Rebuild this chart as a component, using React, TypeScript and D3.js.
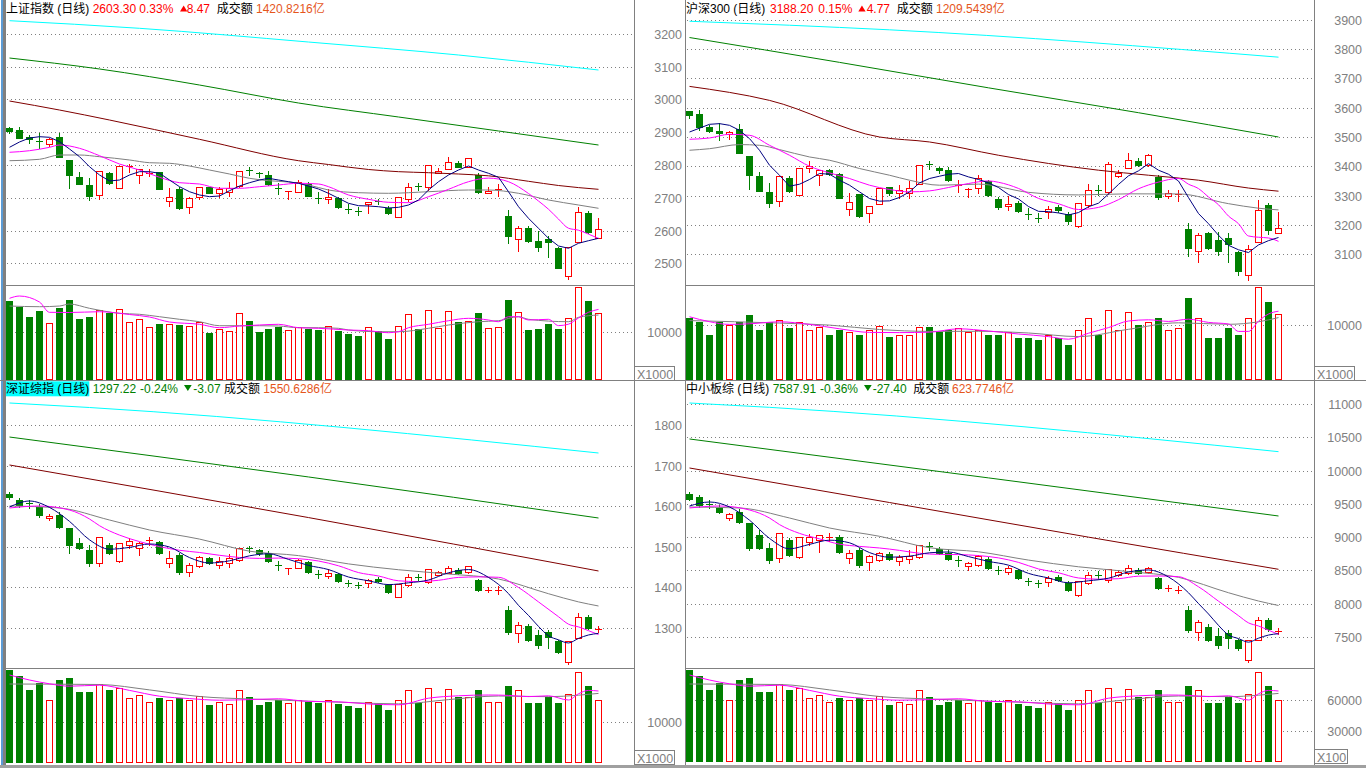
import React from "react";
import * as d3 from "d3";

type Candle = [number, number, number, number]; // open, high, low, close
type Pt = [number, number]; // candle index, value

const RED = "#ff0000";
const GREEN = "#008000";
const NAVY = "#000080";
const MAGENTA = "#ff00ff";
const GRAY = "#808080";
const DARKRED = "#800000";
const CYAN = "#00ffff";
const ORANGE = "#e5561c";
const FONT = '"Liberation Sans", Arial, "Noto Sans CJK SC", sans-serif';

// ================= 上证指数 =================
const shCandles: Candle[] = [
  [2912.9, 2916.0, 2897.7, 2903.8], [2906.8, 2916.9, 2881.0, 2883.3], [2884.5, 2891.5, 2866.2, 2878.4],
  [2873.2, 2896.7, 2852.8, 2870.2], [2864.1, 2883.3, 2858.0, 2878.4], [2884.5, 2896.7, 2824.4, 2825.3],
  [2815.3, 2815.3, 2728.9, 2769.5], [2762.5, 2777.7, 2742.0, 2742.0], [2739.0, 2759.4, 2693.2, 2705.4],
  [2709.4, 2781.7, 2696.2, 2781.7], [2774.7, 2779.6, 2742.0, 2746.0], [2728.9, 2797.9, 2728.9, 2797.9],
  [2793.9, 2803.0, 2779.6, 2797.0], [2769.5, 2786.9, 2746.0, 2786.9], [2773.5, 2787.8, 2766.4, 2775.6],
  [2777.7, 2777.7, 2725.8, 2725.8], [2691.1, 2728.9, 2674.9, 2703.3], [2725.8, 2733.8, 2665.7, 2668.8],
  [2672.7, 2702.3, 2654.4, 2698.4], [2701.4, 2733.8, 2697.2, 2733.8], [2732.0, 2733.8, 2713.6, 2715.5],
  [2713.6, 2733.8, 2703.3, 2725.8], [2718.5, 2749.0, 2705.4, 2728.9], [2735.9, 2780.8, 2733.8, 2780.8],
  [2783.8, 2794.8, 2769.5, 2781.7], [2776.5, 2779.6, 2762.5, 2771.6], [2769.5, 2781.7, 2738.0, 2742.0],
  [2729.8, 2744.2, 2711.5, 2727.7], [2717.6, 2719.7, 2695.3, 2719.7], [2718.5, 2754.2, 2718.5, 2749.0],
  [2742.0, 2747.2, 2703.9, 2706.9], [2700.2, 2718.5, 2683.1, 2698.4], [2695.3, 2725.8, 2685.0, 2701.4],
  [2700.2, 2702.3, 2669.7, 2672.7], [2665.7, 2681.0, 2654.4, 2664.2], [2660.5, 2672.7, 2647.4, 2658.7],
  [2680.1, 2688.0, 2654.4, 2686.2], [2691.1, 2697.2, 2680.1, 2686.2], [2669.7, 2674.9, 2650.5, 2654.4],
  [2642.2, 2701.4, 2642.2, 2701.4], [2695.3, 2746.0, 2691.1, 2732.0], [2735.0, 2746.0, 2723.7, 2732.9],
  [2733.8, 2800.0, 2723.7, 2800.0], [2774.7, 2789.9, 2774.7, 2780.8], [2786.9, 2825.3, 2786.9, 2808.2],
  [2805.2, 2813.1, 2793.0, 2794.8], [2794.8, 2820.4, 2793.0, 2820.4], [2769.5, 2774.7, 2713.6, 2718.5],
  [2713.6, 2733.8, 2713.6, 2721.6], [2724.6, 2742.0, 2705.4, 2726.8], [2644.4, 2662.7, 2562.9, 2584.3],
  [2573.3, 2613.9, 2538.5, 2606.8], [2608.7, 2614.8, 2566.0, 2568.1], [2569.0, 2599.5, 2538.5, 2548.9],
  [2574.2, 2583.3, 2520.2, 2564.1], [2547.6, 2549.7, 2486.6, 2486.6], [2461.3, 2548.9, 2451.2, 2548.9],
  [2564.1, 2670.9, 2564.1, 2655.7], [2654.4, 2660.5, 2593.4, 2594.8], [2578.2, 2639.2, 2578.2, 2603.3],
];
const shVolume: number[] = [
  16622, 15364, 13268, 14525, 11884, 15154, 16768, 12786, 13268, 14672, 13980, 14819, 12094, 12723, 11046,
  11738, 11675, 11528, 11318, 12094, 9914, 10627, 10270, 13980, 12366, 10061, 10690, 11172, 10417, 11172,
  10690, 10480, 11318, 10270, 9642, 9222, 11046, 10270, 8594, 11318, 13834, 10627, 14609, 10836, 14462,
  12220, 12366, 14106, 10836, 11046, 16768, 14253, 10480, 10690, 11800, 10690, 12932, 19430, 16558, 13980,
];
const shMA5: number[] = [
  2854.0, 2870.2, 2882.4, 2886.4, 2884.5, 2871.1, 2848.8, 2825.3, 2794.8, 2769.5, 2751.2, 2754.2, 2769.5,
  2779.6, 2779.6, 2774.7, 2754.2, 2733.8, 2718.5, 2708.5, 2703.3, 2705.4, 2721.6, 2735.9, 2746.0, 2754.2,
  2759.4, 2754.2, 2749.0, 2744.2, 2735.9, 2726.8, 2713.6, 2698.4, 2683.1, 2675.8, 2674.9, 2672.7, 2668.8,
  2670.9, 2677.9, 2693.2, 2723.7, 2749.0, 2769.5, 2784.7, 2797.0, 2784.7, 2774.7, 2762.5, 2718.5, 2672.7,
  2637.3, 2606.8, 2576.3, 2552.8, 2545.8, 2561.1, 2569.0, 2576.3,
];
const shMA10: Pt[] = [
  [0, 2838.8], [2, 2843.6], [4, 2854.0], [5, 2861.0], [7, 2851.0], [9, 2828.4], [11, 2803.0], [13, 2784.7],
  [15, 2762.5], [17, 2746.0], [19, 2742.0], [21, 2728.9], [23, 2728.9], [25, 2733.8], [27, 2739.0],
  [29, 2744.2], [31, 2742.0], [32, 2733.8], [34, 2708.5], [36, 2695.3], [38, 2686.2], [40, 2685.0],
  [42, 2703.3], [44, 2725.8], [46, 2749.0], [48, 2760.0], [50, 2749.0], [52, 2713.0], [53, 2690.0],
  [54, 2665.0], [55, 2635.0], [56, 2607.0], [57, 2601.0], [58, 2589.0], [59, 2576.0],
];
const shMA20: Pt[] = [
  [0, 2813.1], [3, 2817.4], [5, 2830.5], [7, 2830.5], [9, 2825.3], [12, 2815.3], [14, 2807.0], [16, 2805.2],
  [18, 2796.9], [20, 2784.7], [22, 2772.5], [24, 2759.4], [26, 2752.1], [28, 2748.1], [30, 2739.0],
  [32, 2723.7], [35, 2715.5], [38, 2713.6], [42, 2718.5], [46, 2723.7], [48, 2723.7], [51, 2713.6],
  [54, 2693.2], [57, 2677.9], [59, 2667.9],
];
const shMA60: Pt[] = [
  [0, 2995.3], [5, 2967.8], [10, 2937.3], [19, 2878.4], [29, 2813.1], [32, 2801.5], [36, 2786.3],
  [39, 2779.6], [42, 2776.5], [45, 2772.5], [48, 2767.0], [52, 2750.3], [55, 2737.4], [59, 2725.8],
];
const shMA120: Pt[] = [
  [0, 3126.5], [9, 3093.0], [19, 3044.1], [29, 2989.2], [39, 2946.5], [49, 2903.8], [59, 2861.0],
];
const shMA250: Pt[] = [[0, 3240.4], [13, 3217.2], [30, 3175.3], [45, 3135.7], [59, 3089.9]];
const shVolMA5: Pt[] = [
  [0, 17124], [1, 17606], [3, 16349], [4, 14190], [6, 14148], [9, 14316], [12, 13729], [14, 13205],
  [16, 12157], [19, 11675], [21, 10962], [23, 11318], [25, 11528], [27, 11675], [29, 10962], [31, 10836],
  [34, 10480], [36, 10333], [38, 9914], [39, 10124], [40, 10962], [42, 11675], [44, 12429], [46, 12932],
  [48, 12576], [49, 12220], [50, 13268], [51, 13268], [52, 12576], [54, 12723], [55, 11400], [56, 11700],
  [57, 13000], [58, 14200], [59, 14800],
];
const shVolMA10: Pt[] = [
  [0, 15510], [3, 15364], [5, 15510], [6, 15930], [8, 15029], [11, 13980], [13, 13771], [15, 13268],
  [17, 12723], [19, 12220], [21, 11381], [23, 11381], [25, 11381], [27, 11318], [29, 10962], [31, 10962],
  [33, 10836], [34, 10480], [37, 10124], [39, 10124], [42, 10836], [44, 11528], [47, 12220], [49, 12429],
  [51, 13268], [52, 12723], [56, 12220], [57, 13142], [59, 13624],
];

// ================= 沪深300 =================
const hsCandles: Candle[] = [
  [3588.6, 3588.6, 3566.1, 3576.4], [3579.8, 3591.0, 3525.2, 3534.1], [3534.1, 3539.9, 3517.0, 3519.4],
  [3519.4, 3547.7, 3491.1, 3513.6], [3509.2, 3520.5, 3494.5, 3516.0], [3528.6, 3543.3, 3446.8, 3446.8],
  [3434.2, 3434.2, 3321.7, 3369.4], [3366.0, 3380.7, 3315.9, 3315.9], [3310.4, 3343.2, 3259.3, 3275.0],
  [3281.8, 3368.4, 3263.7, 3368.4], [3361.6, 3366.0, 3312.5, 3315.9], [3301.2, 3394.3, 3301.2, 3394.3],
  [3394.3, 3418.2, 3380.7, 3402.5], [3369.4, 3388.9, 3335.3, 3388.9], [3386.5, 3392.3, 3369.4, 3372.8],
  [3372.8, 3376.2, 3290.0, 3290.0], [3252.5, 3309.1, 3233.0, 3276.3], [3303.6, 3303.6, 3227.2, 3229.6],
  [3238.8, 3264.7, 3210.2, 3264.7], [3269.5, 3326.1, 3269.5, 3326.1], [3329.5, 3329.5, 3300.2, 3309.1],
  [3307.0, 3335.3, 3290.0, 3318.3], [3307.0, 3348.9, 3292.0, 3324.1], [3338.7, 3405.9, 3338.7, 3405.9],
  [3407.9, 3417.2, 3392.3, 3405.9], [3394.3, 3397.7, 3377.3, 3386.5], [3386.5, 3397.7, 3350.0, 3352.4],
  [3331.9, 3352.4, 3312.5, 3334.3], [3319.3, 3325.1, 3293.4, 3321.7], [3324.1, 3369.4, 3307.0, 3361.6],
  [3349.0, 3352.4, 3298.0, 3301.2], [3286.6, 3294.5, 3252.5, 3259.3], [3263.7, 3297.8, 3250.1, 3272.2],
  [3274.0, 3280.8, 3243.3, 3246.7], [3236.4, 3256.9, 3219.4, 3233.0], [3222.8, 3239.8, 3209.0, 3219.4],
  [3243.3, 3263.7, 3222.8, 3253.5], [3260.3, 3267.1, 3243.3, 3250.1], [3236.4, 3243.3, 3202.3, 3212.6],
  [3195.5, 3274.0, 3192.1, 3274.0], [3267.1, 3338.7, 3260.3, 3318.3], [3318.3, 3335.3, 3301.2, 3314.9],
  [3311.5, 3413.8, 3304.6, 3406.9], [3366.0, 3386.5, 3362.6, 3376.2], [3393.3, 3444.4, 3393.3, 3420.6],
  [3417.2, 3427.4, 3400.1, 3403.5], [3403.5, 3441.0, 3400.1, 3437.6], [3362.6, 3369.4, 3287.6, 3294.4],
  [3297.8, 3318.3, 3290.0, 3308.0], [3301.2, 3318.3, 3280.8, 3304.6], [3185.0, 3206.0, 3093.0, 3120.0],
  [3112.0, 3171.0, 3073.0, 3165.0], [3172.0, 3175.0, 3117.0, 3121.0], [3148.0, 3175.0, 3097.0, 3110.0],
  [3155.0, 3172.0, 3073.0, 3134.0], [3107.0, 3110.0, 3030.0, 3043.0], [3030.0, 3130.0, 3011.0, 3118.0],
  [3140.0, 3285.0, 3140.0, 3251.0], [3267.0, 3274.0, 3168.0, 3183.4], [3170.6, 3243.3, 3170.6, 3188.2],
];
const hsVolume: number[] = [
  11272, 10544, 8181, 10544, 9999, 10544, 11817, 9090, 10544, 10908, 9454, 10544, 9090, 9635, 8181, 9090,
  8726, 8181, 9090, 9817, 7817, 8181, 8181, 9635, 9635, 8726, 9090, 9454, 8726, 9090, 8181, 8181, 8726,
  7636, 7636, 7272, 8181, 7636, 6363, 9090, 11272, 8181, 12726, 9090, 12362, 9999, 10544, 11272, 9090,
  9454, 14908, 11272, 7636, 7636, 9454, 8181, 11272, 16907, 14180, 11999,
];
const hsMA5: Pt[] = [
  [0, 3517.0], [2, 3543.3], [3, 3545.7], [4, 3539.9], [5, 3522.8], [6, 3494.5], [7, 3454.7], [8, 3403.5],
  [9, 3369.4], [10, 3331.9], [11, 3338.7], [12, 3354.8], [13, 3375.2], [14, 3372.8], [15, 3352.4],
  [16, 3335.3], [17, 3312.5], [18, 3289.9], [19, 3280.8], [20, 3281.8], [21, 3293.4], [22, 3312.5],
  [23, 3343.2], [24, 3358.2], [25, 3366.0], [26, 3372.8], [27, 3375.2], [28, 3363.6], [29, 3354.8],
  [30, 3343.2], [31, 3327.5], [32, 3303.3], [33, 3288.3], [34, 3262.4], [35, 3246.0], [36, 3245.0],
  [37, 3240.5], [38, 3233.7], [39, 3241.9], [40, 3261.7], [41, 3273.9], [42, 3305.3], [43, 3338.0],
  [44, 3367.4], [45, 3384.4], [46, 3409.0], [47, 3386.5], [48, 3372.8], [49, 3349.6], [50, 3292.9],
  [51, 3238.4], [52, 3203.7], [53, 3164.1], [54, 3130.0], [55, 3114.6], [56, 3105.2], [57, 3131.2],
  [58, 3145.9], [59, 3156.7],
];
const hsMA10: Pt[] = [
  [0, 3492.2], [2, 3496.6], [4, 3509.2], [6, 3505.8], [8, 3471.7], [10, 3437.6], [12, 3400.1], [14, 3377.3],
  [16, 3358.2], [18, 3335.3], [20, 3320.7], [22, 3312.5], [24, 3315.9], [26, 3327.5], [28, 3341.1],
  [30, 3350.0], [31, 3345.3], [33, 3324.2], [35, 3290.2], [37, 3271.9], [39, 3252.2], [41, 3259.5],
  [43, 3285.9], [45, 3323.1], [47, 3345.9], [49, 3358.5], [50, 3338.7], [51, 3323.7], [52, 3295.1],
  [53, 3268.5], [54, 3229.8], [55, 3203.8], [56, 3161.8], [57, 3157.5], [58, 3155.0], [59, 3143.4],
];
const hsMA20: Pt[] = [
  [0, 3454.7], [2, 3460.0], [5, 3474.1], [7, 3471.7], [9, 3457.0], [12, 3431.8], [14, 3420.6], [17, 3392.3],
  [20, 3369.4], [22, 3352.4], [25, 3335.3], [29, 3339.0], [34, 3310.9], [39, 3302.1], [44, 3305.8],
  [49, 3305.4], [54, 3272.2], [57, 3256.7], [59, 3250.9],
];
const hsMA60: Pt[] = [
  [0, 3672.9], [8, 3625.1], [19, 3500.0], [24, 3483.0], [31, 3437.6], [41, 3386.5], [46, 3369.4],
  [51, 3352.4], [56, 3325.6], [59, 3314.9],
];
const hsMA120: Pt[] = [[0, 3839.9], [15, 3755.0], [30, 3668.0], [45, 3583.0], [59, 3500.0]];
const hsMA250: Pt[] = [[0, 3895.5], [10, 3881.9], [20, 3866.2], [59, 3772.8]];
const hsVolMA5: Pt[] = [
  [0, 11500], [2, 10600], [4, 10108], [6, 10217], [9, 10581], [12, 10108], [15, 9308], [18, 8654],
  [21, 8617], [24, 8690], [27, 9308], [30, 8908], [33, 8363], [36, 7890], [38, 7418], [40, 8508],
  [42, 9526], [44, 10726], [46, 10944], [48, 10653], [50, 11054], [52, 10472], [54, 10181], [55, 8836],
  [56, 8836], [57, 10690], [58, 11999], [59, 12508],
];
const hsVolMA10: Pt[] = [
  [0, 10800], [9, 10344], [14, 9981], [19, 9181], [24, 8837], [29, 8856], [34, 8547], [39, 7890],
  [44, 9217], [49, 10399], [54, 10127], [57, 10581], [59, 11345],
];

// ================= 深证综指 =================
const szCandles: Candle[] = [
  [1630.1, 1635.0, 1617.7, 1622.7], [1615.3, 1620.2, 1598.0, 1603.0], [1607.9, 1615.3, 1595.6, 1605.4],
  [1598.0, 1605.4, 1573.4, 1578.3], [1570.9, 1580.8, 1566.0, 1575.9], [1578.3, 1585.7, 1546.3, 1548.8],
  [1546.3, 1546.3, 1484.7, 1504.4], [1509.4, 1521.7, 1494.6, 1497.1], [1492.1, 1504.4, 1452.7, 1460.1],
  [1460.1, 1524.1, 1452.7, 1524.1], [1504.4, 1509.4, 1482.3, 1484.7], [1465.0, 1509.4, 1462.6, 1509.4],
  [1504.4, 1521.7, 1497.1, 1514.3], [1497.1, 1511.8, 1479.8, 1509.4], [1514.3, 1524.1, 1504.4, 1516.8],
  [1511.8, 1514.3, 1482.3, 1484.7], [1460.1, 1489.7, 1450.3, 1472.4], [1479.8, 1484.7, 1433.0, 1437.9],
  [1437.9, 1460.1, 1428.1, 1455.2], [1452.7, 1477.3, 1450.3, 1474.9], [1472.4, 1474.9, 1457.6, 1460.1],
  [1455.2, 1474.9, 1447.8, 1465.0], [1460.1, 1482.3, 1450.3, 1472.4], [1467.5, 1497.1, 1465.0, 1497.1],
  [1497.1, 1502.0, 1487.2, 1494.6], [1492.1, 1494.6, 1479.8, 1484.7], [1484.7, 1489.7, 1462.6, 1465.0],
  [1455.2, 1465.0, 1442.9, 1452.7], [1445.3, 1447.8, 1433.0, 1447.8], [1447.8, 1470.0, 1447.8, 1467.5],
  [1462.6, 1465.0, 1435.5, 1437.9], [1433.0, 1442.9, 1423.2, 1430.6], [1428.1, 1445.3, 1423.2, 1435.5],
  [1433.0, 1435.5, 1413.3, 1415.8], [1410.8, 1418.2, 1403.5, 1408.4], [1405.9, 1413.3, 1398.5, 1403.5],
  [1410.8, 1420.7, 1401.0, 1418.2], [1420.7, 1425.6, 1413.3, 1415.8], [1405.9, 1408.4, 1386.2, 1388.7],
  [1376.4, 1408.4, 1376.4, 1408.4], [1405.9, 1433.0, 1403.5, 1425.6], [1425.6, 1433.0, 1418.2, 1423.2],
  [1413.3, 1445.3, 1410.8, 1445.3], [1430.6, 1440.4, 1430.6, 1437.9], [1435.5, 1452.7, 1435.5, 1447.8],
  [1442.9, 1447.8, 1433.0, 1435.5], [1437.9, 1452.7, 1435.5, 1452.7], [1418.2, 1420.7, 1391.2, 1393.6],
  [1391.2, 1401.0, 1388.7, 1393.6], [1391.2, 1403.5, 1383.8, 1393.6], [1344.3, 1354.2, 1285.2, 1290.2],
  [1287.7, 1314.8, 1265.5, 1307.4], [1305.0, 1309.9, 1268.0, 1270.5], [1282.8, 1295.1, 1250.8, 1258.1],
  [1290.2, 1295.1, 1250.8, 1277.8], [1268.0, 1270.5, 1238.4, 1240.9], [1216.3, 1268.0, 1211.3, 1268.0],
  [1275.4, 1336.9, 1275.4, 1327.1], [1327.1, 1332.0, 1297.5, 1300.3], [1295.1, 1304.9, 1290.2, 1297.2],
];
const szVolume: number[] = [
  22683, 21219, 17805, 19512, 15366, 20244, 20732, 17317, 17317, 19268, 17805, 18293, 15854, 16585, 14878,
  15854, 15366, 15854, 15366, 16341, 14146, 14878, 14390, 17805, 16097, 14146, 14878, 15366, 14634, 15366,
  14878, 14634, 15366, 14390, 13902, 13415, 14878, 14390, 12927, 15366, 17805, 14634, 18293, 14878, 18049,
  16097, 16097, 17805, 14878, 14878, 18780, 17805, 14634, 14634, 16097, 14634, 16829, 22195, 18780, 15366,
];
const szMA5: Pt[] = [
  [0, 1598.0], [2, 1612.8], [4, 1597.0], [6, 1562.6], [8, 1517.2], [10, 1494.1], [12, 1498.5], [14, 1506.9],
  [16, 1499.5], [18, 1473.4], [20, 1460.1], [22, 1465.5], [24, 1477.8], [26, 1482.8], [28, 1469.0],
  [30, 1454.2], [32, 1443.9], [34, 1425.6], [36, 1416.3], [38, 1406.9], [40, 1411.3], [42, 1418.2],
  [44, 1436.0], [46, 1443.9], [48, 1424.6], [50, 1384.7], [51, 1355.7], [52, 1331.0], [53, 1303.9],
  [54, 1280.8], [55, 1270.9], [56, 1263.1], [57, 1274.4], [58, 1282.8], [59, 1286.7],
];
const szMA10: Pt[] = [
  [0, 1595.6], [3, 1600.5], [6, 1590.6], [8, 1568.5], [9, 1552.0], [11, 1528.8], [13, 1512.8], [15, 1500.5],
  [17, 1491.4], [19, 1486.0], [21, 1479.1], [23, 1473.7], [25, 1471.4], [27, 1472.2], [29, 1470.7],
  [31, 1465.0], [33, 1453.2], [35, 1436.5], [37, 1428.1], [39, 1416.3], [41, 1414.3], [43, 1417.5],
  [45, 1424.6], [47, 1425.9], [49, 1424.9], [51, 1399.8], [53, 1364.3], [55, 1327.8], [56, 1309.4],
  [57, 1302.7], [58, 1293.4], [59, 1283.8],
];
const szMA20: Pt[] = [
  [0, 1600.5], [5, 1595.6], [10, 1566.0], [14, 1541.4], [19, 1519.0], [24, 1489.2], [29, 1478.3],
  [34, 1457.9], [39, 1443.5], [44, 1433.0], [49, 1420.7], [54, 1384.4], [57, 1364.3], [59, 1354.2],
];
const szMA60: Pt[] = [[0, 1701.5], [30, 1572.0], [59, 1440.4]];
const szMA120: Pt[] = [[0, 1770.4], [30, 1672.0], [59, 1570.9]];
const szMA250: Pt[] = [[0, 1854.2], [8, 1843.1], [59, 1731.0]];
const szVolMA5: Pt[] = [
  [0, 21463], [2, 20244], [4, 19317], [6, 18732], [9, 18975], [12, 17707], [15, 16293], [18, 15707],
  [21, 15317], [24, 15463], [27, 15658], [30, 15024], [33, 14927], [36, 14390], [39, 14195], [42, 15805],
  [45, 16390], [48, 16585], [50, 16488], [52, 16195], [54, 16390], [56, 15366], [57, 16878], [58, 17707],
  [59, 17561],
];
const szVolMA10: Pt[] = [
  [0, 19268], [9, 19146], [14, 17829], [19, 16219], [24, 15610], [29, 15171], [34, 14756], [39, 14414],
  [44, 15463], [49, 16341], [54, 16171], [57, 16536], [59, 16975],
];

// ================= 中小板综 =================
const zxCandles: Candle[] = [
  [9648.2, 9678.2, 9558.1, 9573.1], [9603.1, 9633.2, 9452.9, 9483.0], [9498.0, 9558.1, 9437.9, 9483.0],
  [9437.9, 9483.0, 9362.8, 9377.8], [9287.7, 9362.8, 9257.7, 9347.8], [9377.8, 9422.9, 9212.6, 9227.6],
  [9212.6, 9212.6, 8807.1, 8837.1], [9032.4, 9107.5, 8822.1, 8837.1], [8837.1, 8912.2, 8611.8, 8656.9],
  [8686.9, 9062.4, 8626.8, 9062.4], [8957.3, 8987.3, 8717.0, 8732.0], [8702.0, 9002.3, 8686.9, 9002.3],
  [8927.2, 9047.4, 8882.2, 9002.3], [8957.3, 9032.4, 8777.0, 9032.4], [8987.3, 9062.4, 8942.3, 9002.3],
  [9002.3, 9032.4, 8762.0, 8777.0], [8686.9, 8807.1, 8611.8, 8762.0], [8807.1, 8837.1, 8551.8, 8581.8],
  [8626.8, 8732.0, 8506.7, 8717.0], [8656.9, 8777.0, 8641.9, 8762.0], [8747.0, 8777.0, 8656.9, 8671.9],
  [8641.9, 8732.0, 8581.8, 8702.0], [8671.9, 8807.1, 8611.8, 8717.0], [8702.0, 8882.2, 8686.9, 8882.2],
  [8867.2, 8927.2, 8807.1, 8852.1], [8822.1, 8852.1, 8747.0, 8762.0], [8762.0, 8822.1, 8656.9, 8671.9],
  [8656.9, 8717.0, 8566.8, 8641.9], [8566.8, 8626.8, 8506.7, 8611.8], [8581.8, 8732.0, 8566.8, 8717.0],
  [8671.9, 8702.0, 8521.7, 8536.7], [8506.7, 8566.8, 8446.6, 8491.7], [8476.6, 8566.8, 8446.6, 8536.7],
  [8506.7, 8521.7, 8371.5, 8386.5], [8341.5, 8386.5, 8281.4, 8326.4], [8311.4, 8356.5, 8251.4, 8296.4],
  [8326.4, 8416.6, 8266.4, 8386.5], [8401.5, 8431.6, 8341.5, 8356.5], [8311.4, 8341.5, 8191.3, 8206.3],
  [8131.2, 8341.5, 8116.2, 8341.5], [8311.4, 8476.6, 8296.4, 8431.6], [8431.6, 8491.7, 8371.5, 8416.6],
  [8356.5, 8521.7, 8326.4, 8521.7], [8431.6, 8506.7, 8416.6, 8476.6], [8461.6, 8581.8, 8446.6, 8536.7],
  [8506.7, 8536.7, 8446.6, 8461.6], [8476.6, 8551.8, 8461.6, 8536.7], [8386.5, 8401.5, 8221.3, 8236.3],
  [8221.3, 8281.4, 8191.3, 8236.3], [8191.3, 8266.4, 8161.2, 8206.3], [7905.9, 7966.0, 7575.4, 7605.5],
  [7575.4, 7755.7, 7455.3, 7725.6], [7650.5, 7695.6, 7440.3, 7455.3], [7515.4, 7635.5, 7335.1, 7380.2],
  [7560.4, 7605.5, 7335.1, 7485.3], [7455.3, 7470.3, 7305.1, 7335.1], [7154.9, 7455.3, 7124.8, 7455.3],
  [7455.3, 7800.7, 7455.3, 7755.7], [7755.7, 7785.7, 7590.6, 7615.3], [7575.4, 7635.5, 7545.3, 7587.9],
];
const zxVolume: number[] = [
  89028, 83222, 69674, 76448, 59997, 79351, 81287, 67739, 67739, 75481, 69674, 71610, 61933, 64836, 58062,
  61933, 59997, 61933, 59997, 63868, 55159, 58062, 56127, 69674, 62901, 55159, 58062, 59997, 57094, 59997,
  58062, 57094, 59997, 56127, 54191, 52256, 58062, 56127, 50320, 59997, 69674, 57094, 71610, 58062, 70642,
  62901, 62901, 69674, 58062, 58062, 73545, 69674, 57094, 57094, 62901, 57094, 65804, 87093, 73545, 59997,
];
const zxMA5: Pt[] = [
  [0, 9468.0], [2, 9528.0], [4, 9452.9], [6, 9254.7], [8, 8981.3], [10, 8825.1], [12, 8891.2], [14, 8954.3],
  [16, 8915.2], [18, 8768.0], [20, 8699.0], [22, 8714.0], [24, 8765.0], [26, 8777.0], [28, 8707.9],
  [30, 8635.9], [32, 8578.8], [34, 8455.6], [36, 8386.5], [38, 8314.4], [40, 8344.5], [42, 8383.5],
  [44, 8476.6], [46, 8506.7], [48, 8401.5], [50, 8164.2], [51, 8002.0], [52, 7845.8], [53, 7674.6],
  [54, 7530.4], [55, 7476.3], [56, 7422.3], [57, 7482.3], [58, 7528.9], [59, 7549.9],
];
const zxMA10: Pt[] = [
  [0, 9437.9], [3, 9468.0], [6, 9407.9], [8, 9287.7], [9, 9188.6], [11, 9056.4], [13, 8973.8], [15, 8894.2],
  [17, 8861.2], [19, 8837.1], [21, 8801.1], [23, 8757.5], [25, 8740.9], [27, 8737.9], [29, 8722.9],
  [31, 8688.4], [33, 8620.8], [35, 8521.7], [37, 8464.6], [39, 8386.5], [41, 8368.5], [43, 8376.0],
  [45, 8413.6], [47, 8416.6], [49, 8406.0], [51, 8254.4], [53, 8038.1], [55, 7820.3], [56, 7712.2],
  [57, 7665.4], [58, 7602.5], [59, 7539.4],
];
const zxMA20: Pt[] = [
  [0, 9452.9], [5, 9437.9], [10, 9287.7], [14, 9137.5], [19, 9012.9], [24, 8840.9], [29, 8780.0],
  [34, 8655.4], [39, 8554.7], [44, 8482.6], [49, 8396.3], [54, 8164.9], [57, 8040.3], [59, 7973.4],
];
const zxMA60: Pt[] = [[0, 10038.7], [20, 9520.0], [40, 9000.0], [59, 8517.2]];
const zxMA120: Pt[] = [[0, 10474.3], [30, 9890.0], [59, 9317.8]];
const zxMA250: Pt[] = [[0, 11015.0], [8, 10950.0], [59, 10284.0]];
const zxVolMA5: Pt[] = [
  [0, 84190], [2, 79351], [4, 75674], [6, 73352], [9, 74319], [12, 69287], [15, 63675], [18, 61352],
  [21, 59804], [24, 60384], [27, 61158], [30, 58643], [33, 58256], [36, 56127], [39, 55352], [42, 61739],
  [45, 64062], [48, 64836], [50, 64449], [52, 63288], [54, 64062], [56, 59997], [57, 65997], [58, 69287],
  [59, 68707],
];
const zxVolMA10: Pt[] = [
  [0, 75481], [9, 74997], [14, 69771], [19, 63384], [24, 60965], [29, 59223], [34, 57578], [39, 56224],
  [44, 60384], [49, 63868], [54, 63191], [57, 64643], [59, 66385],
];

// ---------- tick labels ----------
const shTicks = [2500, 2600, 2700, 2800, 2900, 3000, 3100, 3200];
const hsTicks = [3100, 3200, 3300, 3400, 3500, 3600, 3700, 3800, 3900];
const szTicks = [1300, 1400, 1500, 1600, 1700, 1800];
const zxTicks = [7500, 8000, 8500, 9000, 9500, 10000, 10500, 11000];
const shVolTicks = [10000];
const hsVolTicks = [10000];
const szVolTicks = [10000];
const zxVolTicks = [30000, 60000];

interface HeaderPart { t: string; x: number; c: string }
interface Line { pts: Pt[]; color: string; linear?: boolean }
interface PanelDef {
  left: number; right: number; axisRight: number;
  yDomain: [number, number]; yRange: [number, number]; yTicks: number[];
  vDomain: [number, number]; vRange: [number, number]; vTicks: number[];
  unit: string; unitBox: [number, number, number, number];
  header: HeaderPart[]; headerY: number; tri: { x: number; up: boolean; c: string };
  selected?: [number, number, number, number];
  candles: Candle[]; volume: number[];
  ma: Line[]; vma: Line[];
}

const toPts = (a: number[]): Pt[] => a.map((v, i) => [i, v]);
const maSet = (m250: Pt[], m120: Pt[], m60: Pt[], m20: Pt[], m10: Pt[], m5: Pt[], lin5 = false): Line[] => [
  { pts: m250, color: CYAN }, { pts: m120, color: GREEN }, { pts: m60, color: DARKRED },
  { pts: m20, color: GRAY }, { pts: m10, color: MAGENTA }, { pts: m5, color: NAVY, linear: lin5 },
];

const panels: PanelDef[] = [
  {
    left: 5, right: 634.5, axisRight: 682,
    yDomain: [2500, 2800], yRange: [263.3, 165], yTicks: shTicks,
    vDomain: [0, 10000], vRange: [380, 332.3], vTicks: shVolTicks,
    unit: "X1000", unitBox: [634.5, 366.5, 39.5, 14],
    headerY: 12.5,
    header: [
      { t: "上证指数 (日线)", x: 6, c: "#000" },
      { t: "2603.30", x: 92.7, c: RED },
      { t: "0.33%", x: 139.3, c: RED },
      { t: "8.47", x: 186.7, c: RED },
      { t: "成交额", x: 216.7, c: "#000" },
      { t: "1420.8216亿", x: 256, c: ORANGE },
    ],
    tri: { x: 180, up: true, c: RED },
    candles: shCandles, volume: shVolume,
    ma: maSet(shMA250, shMA120, shMA60, shMA20, shMA10, toPts(shMA5), true),
    vma: [{ pts: shVolMA10, color: GRAY }, { pts: shVolMA5, color: MAGENTA }],
  },
  {
    left: 685, right: 1314.5, axisRight: 1362,
    yDomain: [3200, 3500], yRange: [224.8, 137], yTicks: hsTicks,
    vDomain: [0, 10000], vRange: [380, 325], vTicks: hsVolTicks,
    unit: "X1000", unitBox: [1314.5, 366.5, 39.5, 14],
    headerY: 12.5,
    header: [
      { t: "沪深300 (日线)", x: 686, c: "#000" },
      { t: "3188.20", x: 770, c: RED },
      { t: "0.15%", x: 818.3, c: RED },
      { t: "4.77", x: 866.7, c: RED },
      { t: "成交额", x: 896.7, c: "#000" },
      { t: "1209.5439亿", x: 936, c: ORANGE },
    ],
    tri: { x: 858.3, up: true, c: RED },
    candles: hsCandles, volume: hsVolume,
    ma: maSet(hsMA250, hsMA120, hsMA60, hsMA20, hsMA10, hsMA5, true),
    vma: [{ pts: hsVolMA10, color: GRAY }, { pts: hsVolMA5, color: MAGENTA }],
  },
  {
    left: 5, right: 634.5, axisRight: 682,
    yDomain: [1300, 1800], yRange: [628, 425], yTicks: szTicks,
    vDomain: [0, 10000], vRange: [763, 722], vTicks: szVolTicks,
    unit: "X1000", unitBox: [634.5, 750.5, 39.5, 14],
    headerY: 393,
    selected: [5, 381.3, 84.3, 15],
    header: [
      { t: "深证综指 (日线)", x: 6, c: "#000" },
      { t: "1297.22", x: 92.7, c: GREEN },
      { t: "-0.24%", x: 140, c: GREEN },
      { t: "-3.07", x: 193.3, c: GREEN },
      { t: "成交额", x: 224, c: "#000" },
      { t: "1550.6286亿", x: 263.3, c: ORANGE },
    ],
    tri: { x: 184, up: false, c: GREEN },
    candles: szCandles, volume: szVolume,
    ma: maSet(szMA250, szMA120, szMA60, szMA20, szMA10, szMA5),
    vma: [{ pts: szVolMA10, color: GRAY }, { pts: szVolMA5, color: MAGENTA }],
  },
  {
    left: 685, right: 1314.5, axisRight: 1362,
    yDomain: [7500, 11000], yRange: [637, 404], yTicks: zxTicks,
    vDomain: [0, 60000], vRange: [762, 700], vTicks: zxVolTicks,
    unit: "X100", unitBox: [1314.5, 749.5, 32.5, 14],
    headerY: 393,
    header: [
      { t: "中小板综 (日线)", x: 686, c: "#000" },
      { t: "7587.91", x: 772.7, c: GREEN },
      { t: "-0.36%", x: 820, c: GREEN },
      { t: "-27.40", x: 872.7, c: GREEN },
      { t: "成交额", x: 913.3, c: "#000" },
      { t: "623.7746亿", x: 952, c: ORANGE },
    ],
    tri: { x: 864, up: false, c: GREEN },
    candles: zxCandles, volume: zxVolume,
    ma: maSet(zxMA250, zxMA120, zxMA60, zxMA20, zxMA10, zxMA5),
    vma: [{ pts: zxVolMA10, color: GRAY }, { pts: zxVolMA5, color: MAGENTA }],
  },
];

function Panel({ p }: { p: PanelDef }) {
  const x = (i: number) => Math.round(p.left + 4 + 9.98 * i) + 0.5;
  const y = d3.scaleLinear().domain(p.yDomain).range(p.yRange);
  const vy = d3.scaleLinear().domain(p.vDomain).range(p.vRange);
  const mkLine = (sc: d3.ScaleLinear<number, number>, linear?: boolean) =>
    d3.line<Pt>().x((d) => x(d[0])).y((d) => sc(d[1])).curve(linear ? d3.curveLinear : d3.curveMonotoneX);
  const gridL = p.left + 2;
  const gridR = p.right - 2;
  const base = Math.round(vy(0));
  const ty = p.headerY;
  const tri = p.tri.up
    ? `${p.tri.x},${ty - 1} ${p.tri.x + 7.3},${ty - 1} ${p.tri.x + 3.65},${ty - 7}`
    : `${p.tri.x},${ty - 8} ${p.tri.x + 7.7},${ty - 8} ${p.tri.x + 3.85},${ty - 2}`;
  return (
    <g>
      {p.yTicks.map((t) => {
        const yy = Math.round(y(t)) + 0.5;
        return (
          <g key={"g" + t}>
            <line x1={gridL} x2={gridR} y1={yy} y2={yy} stroke={GRAY} strokeDasharray="1 3" shapeRendering="crispEdges" />
            <text x={p.axisRight} y={yy} dy="0.35em" textAnchor="end" fill={GRAY} fontSize={12.5}>{t}</text>
          </g>
        );
      })}
      {p.vTicks.map((t) => {
        const yy = Math.round(vy(t)) + 0.5;
        return (
          <g key={"v" + t}>
            <line x1={gridL} x2={gridR} y1={yy} y2={yy} stroke={GRAY} strokeDasharray="1 3" shapeRendering="crispEdges" />
            <text x={p.axisRight} y={yy} dy="0.35em" textAnchor="end" fill={GRAY} fontSize={12.5}>{t}</text>
          </g>
        );
      })}
      <rect x={p.unitBox[0]} y={p.unitBox[1]} width={p.unitBox[2]} height={p.unitBox[3]} fill="#fff" stroke={GRAY} shapeRendering="crispEdges" />
      <text x={p.unitBox[0] + 2.5} y={p.unitBox[1] + 12} fill={GRAY} fontSize={12.5}>{p.unit}</text>
      <g shapeRendering="crispEdges">
        {p.volume.map((v, i) => {
          const c = p.candles[i];
          const up = c ? c[3] >= c[0] : true;
          const cx = x(i);
          const top = Math.round(vy(v));
          return up ? (
            <rect key={"vb" + i} x={cx - 3} y={top + 0.5} width={6} height={Math.max(base - top - 1, 0)} fill="#fff" stroke={RED} />
          ) : (
            <rect key={"vb" + i} x={cx - 3.5} y={top} width={7} height={base - top} fill={GREEN} />
          );
        })}
      </g>
      {p.vma.map((l, k) => (
        <path key={"vm" + k} d={mkLine(vy, l.linear)(l.pts) || ""} fill="none" stroke={l.color} strokeWidth={1} />
      ))}
      <g shapeRendering="crispEdges">
        {p.candles.map((c, i) => {
          const [o, h, l, cl] = c;
          const up = cl >= o;
          const col = up ? RED : GREEN;
          const cx = x(i);
          const top = Math.round(y(Math.max(o, cl)));
          const bot = Math.round(y(Math.min(o, cl)));
          const yh = Math.round(y(h));
          const yl = Math.round(y(l));
          if (bot - top < 2) {
            return (
              <g key={"c" + i}>
                <line x1={cx} x2={cx} y1={yh} y2={yl + 1} stroke={col} />
                <line x1={cx - 3.5} x2={cx + 3.5} y1={top + 0.5} y2={top + 0.5} stroke={col} />
              </g>
            );
          }
          if (up) {
            return (
              <g key={"c" + i}>
                {yh < top && <line x1={cx} x2={cx} y1={yh} y2={top} stroke={col} />}
                {yl > bot && <line x1={cx} x2={cx} y1={bot + 1} y2={yl + 1} stroke={col} />}
                <rect x={cx - 3} y={top + 0.5} width={6} height={bot - top} fill="#fff" stroke={col} />
              </g>
            );
          }
          return (
            <g key={"c" + i}>
              <line x1={cx} x2={cx} y1={yh} y2={yl + 1} stroke={col} />
              <rect x={cx - 3.5} y={top} width={7} height={bot - top + 1} fill={col} />
            </g>
          );
        })}
      </g>
      {p.ma.map((l, k) => (
        <path key={"m" + k} d={mkLine(y, l.linear)(l.pts) || ""} fill="none" stroke={l.color} strokeWidth={1} />
      ))}
      {p.selected && (
        <rect x={p.selected[0]} y={p.selected[1]} width={p.selected[2]} height={p.selected[3]} fill={CYAN} />
      )}
      {p.header.map((h, k) => (
        <text key={"h" + k} x={h.x} y={ty} fill={h.c} fontSize={12}>{h.t}</text>
      ))}
      <polygon points={tri} fill={p.tri.c} />
    </g>
  );
}

export default function App() {
  return (
    <div style={{ position: "absolute", left: 0, top: 0, width: 1366, height: 768, background: "#fff" }}>
      <svg width={1366} height={768} style={{ display: "block" }} fontFamily={FONT}>
        <rect width={1366} height={768} fill="#fff" />
        {panels.map((p, k) => (
          <Panel key={k} p={p} />
        ))}
        <g shapeRendering="crispEdges">
          <rect x={1} y={0} width={1.5} height={767} fill="#5b9bd5" />
          <rect x={3} y={0} width={2.5} height={767} fill={GRAY} />
          <line x1={634.5} x2={634.5} y1={0} y2={767} stroke={GRAY} />
          <line x1={685.5} x2={685.5} y1={0} y2={767} stroke={GRAY} />
          <line x1={1314.5} x2={1314.5} y1={0} y2={767} stroke={GRAY} />
          <line x1={5} x2={634.5} y1={285.5} y2={285.5} stroke={GRAY} />
          <line x1={685.5} x2={1314.5} y1={285.5} y2={285.5} stroke={GRAY} />
          <line x1={0} x2={1366} y1={380.5} y2={380.5} stroke={GRAY} />
          <line x1={5} x2={634.5} y1={668.5} y2={668.5} stroke={GRAY} />
          <line x1={685.5} x2={1314.5} y1={668.5} y2={668.5} stroke={GRAY} />
          <rect x={0} y={765} width={1366} height={3} fill="#a0a0a0" />
        </g>
      </svg>
    </div>
  );
}
